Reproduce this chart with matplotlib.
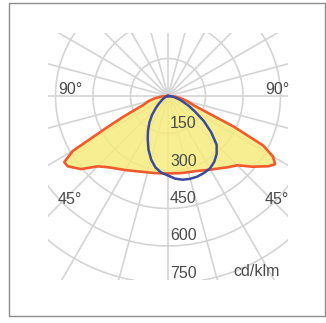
"""Polar luminous intensity plot (cd/klm), batwing + narrow plane."""

import numpy as np
import matplotlib
matplotlib.use("Agg")
import matplotlib.pyplot as plt
from matplotlib import font_manager
from matplotlib.patches import Rectangle

# Angles from nadir (deg) and intensities (cd/klm)
gamma_red = [0, 10, 20, 30, 40, 45, 50, 55, 57.5, 60, 62.5, 65, 67.5, 70, 75, 80, 85, 90]
red_left = [310, 313, 322, 342, 372, 398, 455, 490, 492, 440, 285, 200, 140, 105, 82, 55, 28, 0]
red_right = [310, 313, 320, 340, 372, 392, 440, 490, 508, 485, 430, 290, 160, 110, 80, 52, 26, 0]

gamma_blue = [0, 5, 10, 15, 20, 25, 30, 35, 40, 45, 50, 55, 60, 65, 70, 75, 80, 85, 90]
blue_right = [318, 332, 340, 343, 343, 340, 335, 322, 303, 275, 225, 175, 125, 90, 60, 40, 24, 10, 0]
blue_left = [318, 308, 290, 262, 228, 192, 160, 130, 100, 70, 48, 32, 22, 15, 10, 6, 4, 2, 0]

ring_values = [150, 300, 450, 600, 750, 900, 1050, 1200]
radial_labels = [150, 300, 450, 600, 750]
spoke_angles = np.arange(0, 360, 15)

W, H = 326, 323
CX, CY = 168, 96          # plot centre, px from top-left
PX_PER_UNIT = 37.5 / 150
R_MAX = 1250

GRID = "#d4d4d4"
TEXT = "#4a4a4a"

# pick a narrow face if one is installed
_installed = {f.name for f in font_manager.fontManager.ttflist}
_narrow = [f for f in ["Liberation Sans Narrow", "DejaVu Sans Condensed"] if f in _installed]
if _narrow:
    FONT, FSIZE = [_narrow[0], "DejaVu Sans"], 12
else:
    FONT, FSIZE = ["Liberation Sans", "DejaVu Sans"], 11.5

fig = plt.figure(figsize=(W / 100, H / 100), dpi=100)
fig.patch.set_facecolor("white")

r_px = R_MAX * PX_PER_UNIT
ax = fig.add_axes([(CX - r_px) / W, (H - CY - r_px) / H, 2 * r_px / W, 2 * r_px / H],
                  projection="polar")
ax.set_theta_zero_location("S")
ax.set_theta_direction(1)
ax.patch.set_visible(False)
ax.spines["polar"].set_visible(False)
ax.grid(False)
ax.set_xticks([])
ax.set_yticks([])

# grid is clipped to a rectangle
clip = Rectangle((48 / W, (H - 280) / H), 240 / W, 247 / H, transform=fig.transFigure)

for t in spoke_angles:
    ax.plot([np.radians(t)] * 2, [0, R_MAX], color=GRID, lw=1.2, clip_path=clip, zorder=1)
theta_c = np.linspace(0, 2 * np.pi, 721)
for rv in ring_values:
    ax.plot(theta_c, np.full_like(theta_c, rv), color=GRID, lw=1.2, clip_path=clip, zorder=1)

# red plane (C0-C180): left side negative angles
g_red = np.radians(gamma_red)
th_red = np.concatenate([-g_red[::-1], g_red[1:]])
r_red = np.concatenate([red_left[::-1], red_right[1:]])
ax.fill(th_red, r_red, facecolor="#f5ec7e", alpha=0.85, edgecolor="none", zorder=2)
ax.plot(th_red, r_red, color="#f05a2c", lw=1.9, zorder=3)

# blue plane (C90-C270)
g_blue = np.radians(gamma_blue)
th_blue = np.concatenate([-g_blue[::-1], g_blue[1:]])
r_blue = np.concatenate([blue_left[::-1], blue_right[1:]])
ax.plot(th_blue, r_blue, color="#3c4a9c", lw=1.8, zorder=4)

ax.set_ylim(0, R_MAX)

for v in radial_labels:
    ax.annotate(str(v), xy=(0, v), xytext=(2, 10), textcoords="offset pixels",
                ha="left", va="center", fontsize=FSIZE, color=TEXT, family=FONT, zorder=5)


def px_text(x, y, s, **kw):
    fig.text(x / W, 1 - y / H, s, ha="left", va="center", fontsize=FSIZE,
             color=TEXT, family=FONT, **kw)


px_text(58, 89, "90°")
px_text(265, 89, "90°")
px_text(58, 200, "45°")
px_text(265, 200, "45°")
px_text(233, 271, "cd/klm")

# outer frame
fig.add_artist(Rectangle((8.5 / W, (H - 316) / H), 316 / W, 313 / H, transform=fig.transFigure,
                         fill=False, edgecolor="#8c8c8c", lw=1.0))

fig.savefig("out.png", dpi=100)
